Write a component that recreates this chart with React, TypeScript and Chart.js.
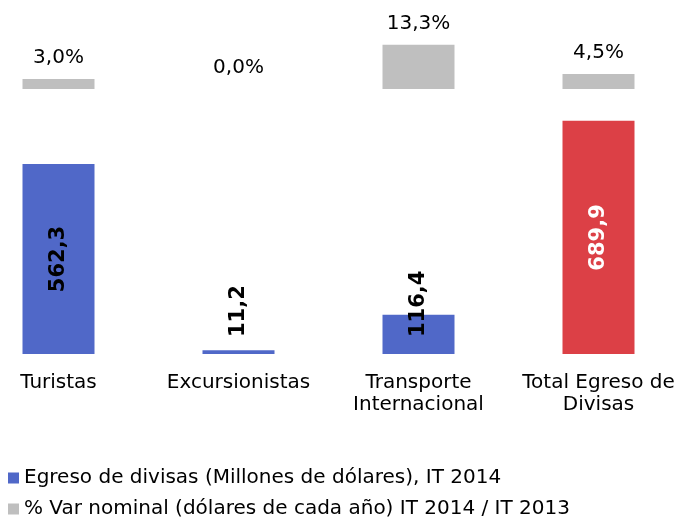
import { useEffect, useRef } from 'react';
import { Chart, registerables } from 'chart.js';

Chart.register(...registerables);

const categories: string[][] = [
  ['Turistas'],
  ['Excursionistas'],
  ['Transporte', 'Internacional'],
  ['Total Egreso de', 'Divisas'],
];
const egresoValues = [562.3, 11.2, 116.4, 689.9];
const varValues = [3.0, 0.0, 13.3, 4.5];
const seriesNames = [
  'Egreso de divisas (Millones de dólares), IT 2014',
  '% Var nominal (dólares de cada año) IT 2014 / IT 2013',
];

const BLUE = '#5068C8';
const RED = '#DC4046';
const GRAY = '#BFBFBF';
const egresoColors = [BLUE, BLUE, BLUE, RED];
const egresoLabelColors = ['#000000', '#000000', '#000000', '#FFFFFF'];
const legendColors = [BLUE, GRAY];
const FONT = '"DejaVu Sans", Verdana, sans-serif';

const fmt = (v: number) => v.toFixed(1).replace('.', ',');

const labelPlugin = {
  id: 'valueLabels',
  afterDatasetsDraw(chart: any) {
    const ctx = chart.ctx;
    const meta0 = chart.getDatasetMeta(0);
    ctx.save();
    ctx.font = `bold 21px ${FONT}`;
    meta0.data.forEach((bar: any, i: number) => {
      const text = fmt(egresoValues[i]);
      const tw = ctx.measureText(text).width;
      const h = bar.base - bar.y;
      ctx.save();
      ctx.textBaseline = 'middle';
      if (tw + 10 <= h) {
        ctx.fillStyle = egresoLabelColors[i];
        ctx.translate(bar.x, (bar.y + bar.base) / 2);
        ctx.rotate(-Math.PI / 2);
        ctx.textAlign = 'center';
      } else {
        ctx.fillStyle = '#000000';
        ctx.translate(bar.x, bar.base - 17);
        ctx.rotate(-Math.PI / 2);
        ctx.textAlign = 'left';
      }
      ctx.fillText(text, 0, 0);
      ctx.restore();
    });
    ctx.restore();

    const meta1 = chart.getDatasetMeta(1);
    ctx.save();
    ctx.font = `20px ${FONT}`;
    ctx.fillStyle = '#000000';
    ctx.textAlign = 'center';
    ctx.textBaseline = 'middle';
    meta1.data.forEach((bar: any, i: number) => {
      ctx.fillText(`${fmt(varValues[i])}%`, bar.x, bar.y - 21.5);
    });
    ctx.restore();
  },
};

const legendPlugin = {
  id: 'customLegend',
  afterDraw(chart: any) {
    const ctx = chart.ctx;
    ctx.save();
    ctx.font = `20px ${FONT}`;
    ctx.textBaseline = 'middle';
    ctx.textAlign = 'left';
    const rows = [chart.height - 40, chart.height - 9];
    seriesNames.forEach((name, i) => {
      const cy = rows[i];
      ctx.fillStyle = legendColors[i];
      ctx.fillRect(8, cy - 5.5, 11, 11);
      ctx.fillStyle = '#000000';
      ctx.fillText(name, 24, cy);
    });
    ctx.restore();
  },
};

export default function App() {
  const ref = useRef<HTMLCanvasElement>(null);
  useEffect(() => {
    if (!ref.current) return;
    const chart = new Chart(ref.current, {
      type: 'bar',
      data: {
        labels: categories as any,
        datasets: [
          {
            label: seriesNames[0],
            data: egresoValues,
            backgroundColor: egresoColors,
            borderWidth: 0,
            yAxisID: 'y',
            grouped: false,
            categoryPercentage: 1,
            barPercentage: 0.4,
            clip: false,
          } as any,
          {
            label: seriesNames[1],
            data: varValues,
            backgroundColor: GRAY,
            borderWidth: 0,
            yAxisID: 'y2',
            grouped: false,
            categoryPercentage: 1,
            barPercentage: 0.4,
            clip: false,
          } as any,
        ],
      },
      options: {
        responsive: false,
        animation: false,
        devicePixelRatio: 1,
        layout: { padding: { left: 58.5, right: 78.5, top: 10, bottom: 104 } },
        plugins: {
          legend: { display: false },
          tooltip: { enabled: false },
        },
        scales: {
          x: {
            type: 'category',
            offset: false,
            grid: { display: false, drawTicks: false },
            border: { display: false },
            ticks: {
              font: { family: FONT, size: 20, lineHeight: 1.1 },
              color: '#000000',
              padding: 18,
              maxRotation: 0,
              autoSkip: false,
            },
            afterFit: (scale: any) => {
              scale.height = 60;
              scale.paddingLeft = 0;
              scale.paddingRight = 0;
            },
          },
          y: {
            display: false,
            min: 0,
            max: 1018,
          },
          y2: {
            display: false,
            min: -79.8,
            max: 23.8,
          },
        },
      },
      plugins: [labelPlugin, legendPlugin],
    });
    return () => chart.destroy();
  }, []);
  return (
    <div style={{ position: 'absolute', left: 0, top: 0, width: 677, height: 518 }}>
      <canvas ref={ref} width={677} height={518} />
    </div>
  );
}
